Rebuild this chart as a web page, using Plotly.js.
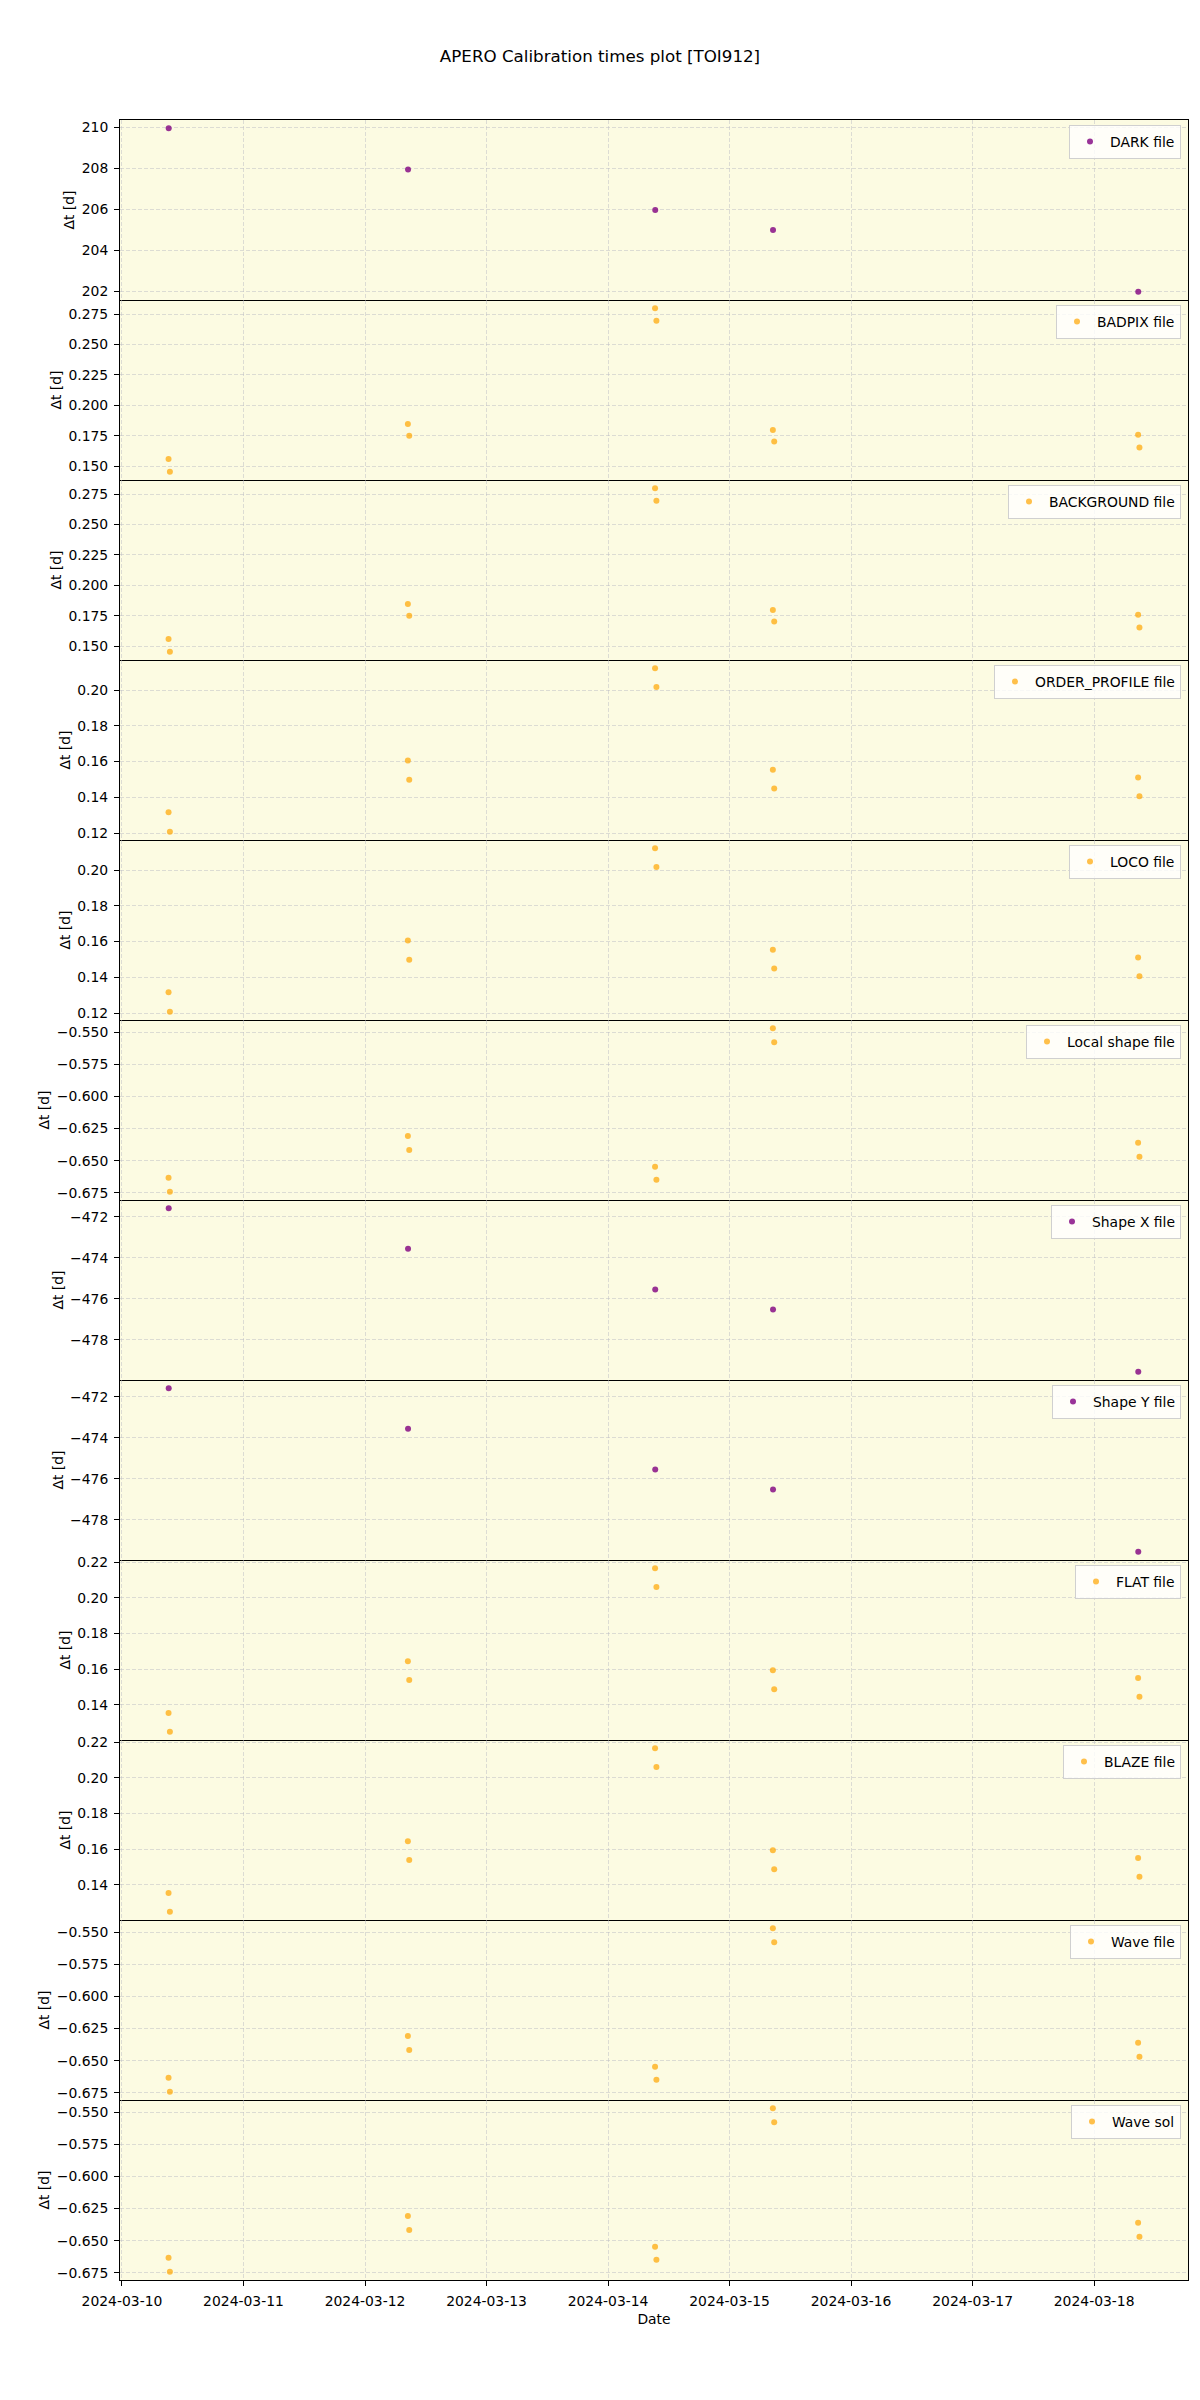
<!DOCTYPE html>
<html>
<head>
<meta charset="utf-8">
<script src="https://cdn.plot.ly/plotly-3.0.1.min.js"></script>
<style>html,body{margin:0;padding:0;background:#ffffff;}</style>
</head>
<body>
<div id="chart" style="width:1200px;height:2400px;"></div>
<script>
// ---- data ----
const singleTimes = ['2024-03-10 09:14', '2024-03-12 08:30', '2024-03-14 09:19', '2024-03-15 08:35', '2024-03-18 08:43'];
const pairTimes = ['2024-03-10 09:12', '2024-03-10 09:28', '2024-03-12 08:28', '2024-03-12 08:44',
                   '2024-03-14 09:17', '2024-03-14 09:33', '2024-03-15 08:33', '2024-03-15 08:49',
                   '2024-03-18 08:41', '2024-03-18 08:57'];

const darkVals       = [209.97, 207.95, 205.97, 204.99, 201.97];
const badpixVals     = [0.1559, 0.1454, 0.1847, 0.1750, 0.2798, 0.2694, 0.1798, 0.1702, 0.1758, 0.1653];
const backgroundVals = [0.1559, 0.1454, 0.1847, 0.1750, 0.2798, 0.2694, 0.1798, 0.1702, 0.1758, 0.1653];
const orderProfVals  = [0.1316, 0.1207, 0.1606, 0.1499, 0.2123, 0.2017, 0.1555, 0.1449, 0.1511, 0.1406];
const locoVals       = [0.1316, 0.1207, 0.1606, 0.1499, 0.2123, 0.2017, 0.1555, 0.1449, 0.1511, 0.1406];
const localShapeVals = [-0.6633, -0.6742, -0.6307, -0.6416, -0.6547, -0.6648, -0.5469, -0.5578, -0.6361, -0.6470];
const shapeXVals     = [-471.58, -473.56, -475.54, -476.52, -479.55];
const shapeYVals     = [-471.58, -473.56, -475.54, -476.52, -479.55];
const flatVals       = [0.1355, 0.1249, 0.1645, 0.1539, 0.2166, 0.2060, 0.1594, 0.1488, 0.1550, 0.1445];
const blazeVals      = [0.1355, 0.1249, 0.1645, 0.1539, 0.2166, 0.2060, 0.1594, 0.1488, 0.1550, 0.1445];
const waveFileVals   = [-0.6633, -0.6742, -0.6307, -0.6416, -0.6547, -0.6648, -0.5469, -0.5578, -0.6361, -0.6470];
const waveSolVals    = [-0.6633, -0.6742, -0.6307, -0.6416, -0.6547, -0.6648, -0.5469, -0.5578, -0.6361, -0.6470];

const seriesNames = ['DARK file', 'BADPIX file', 'BACKGROUND file', 'ORDER_PROFILE file', 'LOCO file',
                     'Local shape file', 'Shape X file', 'Shape Y file', 'FLAT file', 'BLAZE file',
                     'Wave file', 'Wave sol'];
const seriesValues = [darkVals, badpixVals, backgroundVals, orderProfVals, locoVals, localShapeVals,
                      shapeXVals, shapeYVals, flatVals, blazeVals, waveFileVals, waveSolVals];
const yTickSteps = [2, 0.025, 0.025, 0.02, 0.02, 0.025, 2, 2, 0.02, 0.02, 0.025, 0.025];
const yTickFormats = ['d', '.3f', '.3f', '.2f', '.2f', '.3f', 'd', 'd', '.2f', '.2f', '.3f', '.3f'];
const xTickStart = '2024-03-10';
const plotTitle = 'APERO Calibration times plot [TOI912]';

// ---- styling ----
const PURPLE = 'rgba(128,0,128,0.8)';
const ORANGE = 'rgba(255,165,0,0.7)';
const FONT = 'DejaVu Sans, Liberation Sans, sans-serif';
const FS = 13.9;
const GRID = 'rgba(185,185,195,0.6)';
const N = seriesNames.length;
const margin = {l: 120, r: 12, t: 120, b: 120};
const plotW = 1200 - margin.l - margin.r;
const plotH = 2400 - margin.t - margin.b;

function toMs(s) { return Date.parse(s.replace(' ', 'T') + ':00Z'); }
function padRange(lo, hi) { const p = 0.05 * (hi - lo); return [lo - p, hi + p]; }

const allMs = singleTimes.concat(pairTimes).map(toMs);
const xRange = padRange(Math.min(...allMs), Math.max(...allMs));

const traces = [];
const layout = {
  width: 1200, height: 2400,
  margin: margin,
  paper_bgcolor: '#ffffff',
  plot_bgcolor: '#fcfbe2',
  font: {family: FONT, size: FS, color: '#000000'},
  title: {text: plotTitle, font: {family: FONT, size: 16.7, color: '#000'},
          x: 0.5, xanchor: 'center', xref: 'container', y: 1 - 50/2400, yanchor: 'top', yref: 'container'},
  showlegend: true
};

for (let i = 0; i < N; i++) {
  const vals = seriesValues[i];
  const single = vals.length === singleTimes.length;
  const sfx = i === 0 ? '' : String(i + 1);
  const legendKey = i === 0 ? 'legend' : 'legend' + (i + 1);
  traces.push({
    type: 'scatter', mode: 'markers',
    x: single ? singleTimes : pairTimes,
    y: vals,
    name: seriesNames[i],
    xaxis: 'x' + sfx, yaxis: 'y' + sfx,
    legend: legendKey,
    showlegend: true,
    marker: {color: single ? PURPLE : ORANGE, size: 6, line: {width: 0}},
    hoverinfo: 'x+y'
  });

  const top = 1 - i / N, bot = 1 - (i + 1) / N;
  const isBottom = i === N - 1;
  const xa = {
    type: 'date', anchor: 'y' + sfx, domain: [0, 1],
    range: xRange,
    tick0: xTickStart, dtick: 86400000,
    tickformat: '%Y-%m-%d',
    showticklabels: isBottom,
    ticks: isBottom ? 'outside' : '', ticklen: 5, tickwidth: 1, tickcolor: '#000',
    ticklabelstandoff: 3,
    showgrid: true, gridcolor: GRID, gridwidth: 0.8, griddash: '4px,2px',
    showline: true, linecolor: '#000', linewidth: 1, mirror: i === 0,
    zeroline: false,
    tickfont: {family: FONT, size: FS, color: '#000'},
    title: isBottom ? {text: 'Date', standoff: 6, font: {family: FONT, size: FS, color: '#000'}} : {text: ''}
  };
  if (i !== 0) xa.matches = 'x';
  layout['xaxis' + sfx] = xa;

  layout['yaxis' + sfx] = {
    anchor: 'x' + sfx, domain: [bot, top],
    range: padRange(Math.min(...vals), Math.max(...vals)),
    tick0: 0, dtick: yTickSteps[i], tickformat: yTickFormats[i],
    ticks: 'outside', ticklen: 5, tickwidth: 1, tickcolor: '#000',
    ticklabelstandoff: 3,
    showgrid: true, gridcolor: GRID, gridwidth: 0.8, griddash: '4px,2px',
    showline: true, linecolor: '#000', linewidth: 1, mirror: true,
    zeroline: false,
    tickfont: {family: FONT, size: FS, color: '#000'},
    title: {text: 'Δt [d]', standoff: 3, font: {family: FONT, size: FS, color: '#000'}}
  };

  layout[legendKey] = {
    x: 1 - 7 / plotW, xanchor: 'right', xref: 'paper',
    y: top - 5 / plotH, yanchor: 'top', yref: 'paper',
    bgcolor: 'rgba(255,255,255,0.8)', bordercolor: '#d0d0d0', borderwidth: 1,
    font: {family: FONT, size: FS, color: '#000'},
    itemclick: false, itemdoubleclick: false
  };
}

Plotly.newPlot('chart', traces, layout, {displayModeBar: false, staticPlot: true});
</script>
</body>
</html>
